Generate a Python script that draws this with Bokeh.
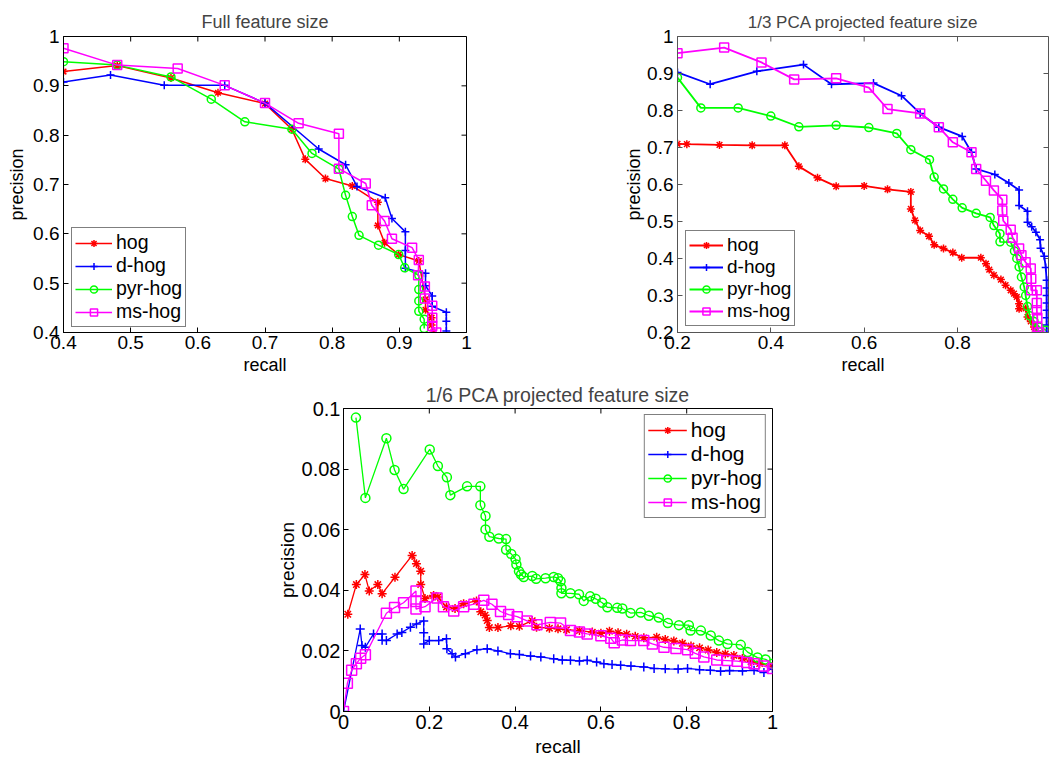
import math
from bokeh.plotting import figure
from bokeh.layouts import column, row, Spacer
from bokeh.models import Range1d, FixedTicker, CustomJSTickFormatter, Legend, LegendItem
from bokeh.embed import file_html
from bokeh.resources import INLINE

FONT = "Liberation Sans"
SERIES = ["hog", "d-hog", "pyr-hog", "ms-hog"]
COLORS = ["#FF0000", "#0000FF", "#00FF00", "#FF00FF"]
MARKERS = ["asterisk", "cross", "circle", "square"]

# ---------------- Full feature size ----------------
full_hog_r = [0.40, 0.48, 0.56, 0.63, 0.70, 0.74, 0.76, 0.79, 0.83, 0.868, 0.868, 0.878, 0.899, 0.929, 0.939, 0.939, 0.948, 0.948, 0.95]
full_hog_p = [0.929, 0.941, 0.916, 0.886, 0.864, 0.812, 0.751, 0.712, 0.697, 0.664, 0.617, 0.582, 0.558, 0.545, 0.467, 0.446, 0.430, 0.415, 0.400]
full_dhog_r = [0.40, 0.47, 0.55, 0.64, 0.70, 0.78, 0.82, 0.837, 0.879, 0.889, 0.909, 0.909, 0.909, 0.939, 0.939, 0.949, 0.949, 0.97, 0.97, 0.97]
full_dhog_p = [0.908, 0.922, 0.901, 0.901, 0.865, 0.772, 0.740, 0.696, 0.673, 0.631, 0.604, 0.566, 0.530, 0.520, 0.495, 0.474, 0.453, 0.441, 0.423, 0.403]
full_pyr_r = [0.40, 0.48, 0.56, 0.62, 0.67, 0.74, 0.77, 0.81, 0.82, 0.83, 0.84, 0.869, 0.899, 0.908, 0.929, 0.929, 0.929, 0.929, 0.937, 0.937]
full_pyr_p = [0.949, 0.942, 0.918, 0.873, 0.827, 0.812, 0.763, 0.731, 0.678, 0.635, 0.597, 0.577, 0.558, 0.531, 0.516, 0.487, 0.464, 0.443, 0.427, 0.408]
full_ms_r = [0.40, 0.48, 0.57, 0.64, 0.70, 0.75, 0.81, 0.81, 0.85, 0.859, 0.878, 0.889, 0.919, 0.929, 0.928, 0.938, 0.938, 0.949, 0.949, 0.949, 0.955]
full_ms_p = [0.976, 0.942, 0.935, 0.901, 0.865, 0.824, 0.803, 0.732, 0.702, 0.658, 0.626, 0.590, 0.572, 0.547, 0.516, 0.493, 0.469, 0.454, 0.430, 0.413, 0.400]

# ---------------- 1/3 PCA projected feature size ----------------
pca3_hog_r = [0.20, 0.22, 0.29, 0.36, 0.43, 0.46, 0.50, 0.54, 0.60, 0.65, 0.70, 0.70, 0.709, 0.72, 0.739, 0.75, 0.77, 0.79, 0.809, 0.85, 0.861, 0.868, 0.878, 0.893, 0.903, 0.914, 0.921, 0.927, 0.932, 0.932, 0.946, 0.95, 0.957, 0.964, 0.966]
pca3_hog_p = [0.710, 0.709, 0.707, 0.706, 0.706, 0.649, 0.618, 0.595, 0.596, 0.587, 0.580, 0.534, 0.503, 0.476, 0.460, 0.437, 0.427, 0.416, 0.402, 0.402, 0.386, 0.370, 0.355, 0.343, 0.328, 0.314, 0.305, 0.296, 0.278, 0.264, 0.265, 0.242, 0.230, 0.215, 0.200]
pca3_dhog_r = [0.20, 0.27, 0.37, 0.47, 0.53, 0.62, 0.68, 0.72, 0.76, 0.81, 0.83, 0.84, 0.88, 0.91, 0.932, 0.932, 0.95, 0.95, 0.959, 0.968, 0.977, 0.978, 0.986, 0.989, 0.991, 0.991, 0.991, 0.991, 0.991, 0.991, 0.991, 0.991]
pca3_dhog_p = [0.903, 0.871, 0.906, 0.924, 0.871, 0.874, 0.840, 0.792, 0.755, 0.730, 0.687, 0.642, 0.627, 0.604, 0.585, 0.543, 0.528, 0.498, 0.486, 0.471, 0.451, 0.428, 0.406, 0.376, 0.341, 0.320, 0.300, 0.280, 0.260, 0.240, 0.220, 0.200]
pca3_pyr_r = [0.20, 0.25, 0.33, 0.40, 0.46, 0.54, 0.61, 0.67, 0.70, 0.74, 0.75, 0.77, 0.79, 0.81, 0.84, 0.87, 0.878, 0.891, 0.891, 0.914, 0.922, 0.927, 0.932, 0.937, 0.943, 0.946, 0.95, 0.955, 0.964, 0.975, 0.99]
pca3_pyr_p = [0.889, 0.807, 0.807, 0.785, 0.756, 0.760, 0.754, 0.738, 0.694, 0.667, 0.620, 0.588, 0.560, 0.537, 0.522, 0.511, 0.489, 0.467, 0.445, 0.444, 0.420, 0.400, 0.377, 0.350, 0.323, 0.300, 0.270, 0.245, 0.230, 0.215, 0.206]
pca3_ms_r = [0.20, 0.30, 0.38, 0.45, 0.54, 0.61, 0.65, 0.72, 0.76, 0.79, 0.83, 0.84, 0.861, 0.878, 0.896, 0.896, 0.898, 0.914, 0.918, 0.932, 0.937, 0.946, 0.957, 0.958, 0.958, 0.97, 0.97, 0.97, 0.971, 0.971, 0.975]
pca3_ms_p = [0.955, 0.970, 0.930, 0.884, 0.887, 0.862, 0.804, 0.792, 0.755, 0.714, 0.687, 0.642, 0.610, 0.584, 0.559, 0.530, 0.502, 0.478, 0.456, 0.427, 0.409, 0.390, 0.373, 0.345, 0.314, 0.314, 0.280, 0.260, 0.240, 0.215, 0.200]

# ---------------- 1/6 PCA projected feature size ----------------
pca6_hog_r = [0.01, 0.03, 0.05, 0.06, 0.08, 0.09, 0.12, 0.16, 0.17, 0.18, 0.18, 0.19, 0.21, 0.22, 0.24, 0.26, 0.28, 0.31, 0.32, 0.33, 0.335, 0.34, 0.36, 0.39, 0.41, 0.44, 0.45, 0.48, 0.50, 0.52, 0.55, 0.58, 0.60, 0.62, 0.64, 0.66, 0.68, 0.70, 0.73, 0.75, 0.77, 0.79, 0.81, 0.83, 0.85, 0.87, 0.89, 0.91, 0.93, 0.95, 0.97, 1.0]
pca6_hog_p = [0.0321, 0.0419, 0.0452, 0.0398, 0.0419, 0.0389, 0.0443, 0.0515, 0.0488, 0.0463, 0.0419, 0.0373, 0.0383, 0.0378, 0.0345, 0.0340, 0.0356, 0.0365, 0.0329, 0.0318, 0.0300, 0.0277, 0.0277, 0.0283, 0.0281, 0.0300, 0.0278, 0.0275, 0.0273, 0.0270, 0.0267, 0.0262, 0.0258, 0.0265, 0.0260, 0.0255, 0.0248, 0.0243, 0.0245, 0.0238, 0.0233, 0.0225, 0.0216, 0.0210, 0.0203, 0.0195, 0.0190, 0.0185, 0.0175, 0.0165, 0.0158, 0.0148]
pca6_dhog_r = [0.0, 0.039, 0.043, 0.051, 0.07, 0.09, 0.09, 0.10, 0.125, 0.136, 0.156, 0.17, 0.187, 0.187, 0.187, 0.20, 0.222, 0.24, 0.241, 0.253, 0.261, 0.284, 0.311, 0.335, 0.36, 0.389, 0.41, 0.436, 0.46, 0.49, 0.51, 0.529, 0.55, 0.568, 0.59, 0.607, 0.626, 0.646, 0.67, 0.70, 0.724, 0.75, 0.78, 0.802, 0.83, 0.855, 0.879, 0.90, 0.93, 0.957, 0.98, 1.0]
pca6_dhog_p = [0.0, 0.0272, 0.0218, 0.0212, 0.0256, 0.0256, 0.0235, 0.0234, 0.0256, 0.0261, 0.0278, 0.0289, 0.0299, 0.0260, 0.0223, 0.0234, 0.0234, 0.0240, 0.0207, 0.0191, 0.0180, 0.0191, 0.0204, 0.0207, 0.0200, 0.0191, 0.0188, 0.0183, 0.0180, 0.0174, 0.0170, 0.0169, 0.0167, 0.0169, 0.0163, 0.0158, 0.0155, 0.0153, 0.0150, 0.0147, 0.0142, 0.0141, 0.0140, 0.0142, 0.0138, 0.0136, 0.0133, 0.0135, 0.0134, 0.0136, 0.0129, 0.0142]
pca6_pyr_r = [0.029, 0.051, 0.100, 0.119, 0.140, 0.201, 0.220, 0.241, 0.249, 0.288, 0.319, 0.319, 0.331, 0.331, 0.34, 0.362, 0.379, 0.379, 0.391, 0.401, 0.403, 0.409, 0.414, 0.42, 0.44, 0.449, 0.471, 0.49, 0.50, 0.506, 0.508, 0.508, 0.529, 0.549, 0.56, 0.575, 0.588, 0.603, 0.615, 0.638, 0.65, 0.669, 0.693, 0.712, 0.735, 0.756, 0.782, 0.805, 0.809, 0.833, 0.856, 0.875, 0.895, 0.926, 0.942, 0.965, 0.984, 1.0]
pca6_pyr_p = [0.0970, 0.0705, 0.0902, 0.0797, 0.0734, 0.0865, 0.0810, 0.0773, 0.0714, 0.0743, 0.0743, 0.0681, 0.0645, 0.0601, 0.0577, 0.0571, 0.0569, 0.0534, 0.0520, 0.0503, 0.0485, 0.0463, 0.0452, 0.0444, 0.0447, 0.0438, 0.0440, 0.0444, 0.0440, 0.0430, 0.0408, 0.0390, 0.0390, 0.0387, 0.0365, 0.0380, 0.0372, 0.0359, 0.0344, 0.0342, 0.0340, 0.0325, 0.0327, 0.0316, 0.0310, 0.0292, 0.0285, 0.0285, 0.0267, 0.0267, 0.0251, 0.0234, 0.0223, 0.0220, 0.0196, 0.0178, 0.0172, 0.0158]
pca6_ms_r = [0.0, 0.009, 0.019, 0.03, 0.04, 0.051, 0.10, 0.119, 0.14, 0.169, 0.169, 0.169, 0.19, 0.218, 0.233, 0.257, 0.28, 0.304, 0.327, 0.346, 0.366, 0.385, 0.405, 0.428, 0.451, 0.482, 0.506, 0.529, 0.55, 0.568, 0.60, 0.623, 0.631, 0.65, 0.669, 0.70, 0.72, 0.747, 0.775, 0.802, 0.82, 0.84, 0.87, 0.895, 0.918, 0.94, 0.957, 0.98, 1.0]
pca6_ms_p = [0.0, 0.0093, 0.0136, 0.0158, 0.0176, 0.0187, 0.0324, 0.0343, 0.0359, 0.0398, 0.0363, 0.0338, 0.0346, 0.0375, 0.0346, 0.0332, 0.0346, 0.0354, 0.0367, 0.0354, 0.0330, 0.0320, 0.0313, 0.0299, 0.0286, 0.0294, 0.0292, 0.0267, 0.0262, 0.0256, 0.0250, 0.0242, 0.0227, 0.0236, 0.0234, 0.0234, 0.0223, 0.0212, 0.0208, 0.0204, 0.0192, 0.0180, 0.0170, 0.0168, 0.0166, 0.0162, 0.0158, 0.0150, 0.0142]

# tick values
full_xticks = [0.4, 0.5, 0.6, 0.7, 0.8, 0.9, 1.0]
full_yticks = [0.4, 0.5, 0.6, 0.7, 0.8, 0.9, 1.0]
pca3_xticks = [0.2, 0.4, 0.6, 0.8, 1.0]
pca3_yticks = [0.2, 0.3, 0.4, 0.5, 0.6, 0.7, 0.8, 0.9, 1.0]
pca6_xticks = [0.0, 0.2, 0.4, 0.6, 0.8, 1.0]
pca6_yticks = [0.0, 0.02, 0.04, 0.06, 0.08, 0.1]

FMT = "return String(parseFloat(tick.toFixed(4)));"


def make_fig(title, xr, yr, xt, yt, w, h, bl, br, bt, bb, title_size, title_standoff,
             tick_size, lab_size, xstand, ystand, frame_color="black"):
    p = figure(width=w, height=h, x_range=Range1d(*xr), y_range=Range1d(*yr),
               output_backend="svg", toolbar_location=None,
               min_border_left=bl, min_border_right=br, min_border_top=bt, min_border_bottom=bb)
    p.title.text = title
    p.title.text_font = FONT
    p.title.text_font_size = title_size
    p.title.text_font_style = "normal"
    p.title.align = "center"
    p.title.standoff = title_standoff
    p.xgrid.grid_line_color = None
    p.ygrid.grid_line_color = None
    p.outline_line_color = frame_color
    p.outline_line_width = 1
    p.outline_line_alpha = 1
    p.background_fill_color = "white"
    p.border_fill_color = "white"
    for ax, ticks in ((p.xaxis[0], xt), (p.yaxis[0], yt)):
        ax.ticker = FixedTicker(ticks=ticks)
        ax.formatter = CustomJSTickFormatter(code=FMT)
        ax.major_tick_in = 5
        ax.major_tick_out = 0
        ax.minor_tick_line_color = None
        ax.axis_line_color = frame_color
        ax.major_tick_line_color = frame_color
        ax.major_label_text_font = FONT
        ax.major_label_text_font_size = tick_size
        ax.major_label_text_color = "black"
        ax.axis_label_text_font = FONT
        ax.axis_label_text_font_size = lab_size
        ax.axis_label_text_font_style = "normal"
        ax.axis_label_text_color = "black"
    p.xaxis.axis_label = "recall"
    p.yaxis.axis_label = "precision"
    p.xaxis.major_label_standoff = xstand[0]
    p.xaxis.axis_label_standoff = xstand[1]
    p.yaxis.major_label_standoff = ystand[0]
    p.yaxis.axis_label_standoff = ystand[1]
    # inward tick marks on the top and right edges of the box (MATLAB style)
    top_x = [t for t in xt if xr[0] <= t <= xr[1]]
    right_y = [t for t in yt if yr[0] <= t <= yr[1]]
    p.ray(x=top_x, y=[yr[1]] * len(top_x), length=5, length_units="screen",
          angle=-math.pi / 2, line_color=frame_color, line_width=1)
    p.ray(x=[xr[1]] * len(right_y), y=right_y, length=5, length_units="screen",
          angle=math.pi, line_color=frame_color, line_width=1)
    return p


def add_series(p, data, location, font_size, glyph_w=37, lw=1.5, msize=8):
    items = []
    for (r, pr), name, color, marker in zip(data, SERIES, COLORS, MARKERS):
        ln = p.line(r, pr, line_color=color, line_width=lw)
        sc = p.scatter(r, pr, marker=marker, size=msize + (1 if marker == "square" else 0),
                       line_color=color, fill_color=(color if marker == "asterisk" else None),
                       line_width=1.5)
        items.append(LegendItem(label=name, renderers=[ln, sc]))
    leg = Legend(items=items, location=location, border_line_color="black",
                 border_line_width=1, background_fill_color="white", background_fill_alpha=1,
                 label_text_font=FONT, label_text_font_size=font_size, label_text_color="black",
                 glyph_width=glyph_w, glyph_height=18, label_height=18, padding=3, spacing=0,
                 label_standoff=4, margin=6)
    p.add_layout(leg)


p1 = make_fig("Full feature size", (0.4, 1.0), (0.4, 1.0), full_xticks, full_yticks,
              476, 378, 63, 10, 36, 46, "18px", 9, "19px", "18px", (3, 3), (4, 3))
add_series(p1, [(full_hog_r, full_hog_p), (full_dhog_r, full_dhog_p),
                (full_pyr_r, full_pyr_p), (full_ms_r, full_ms_p)], (8, 5), "19.5px")

p2 = make_fig("1/3 PCA projected feature size", (0.2, 0.995), (0.2, 1.0), pca3_xticks, pca3_yticks,
              430, 378, 58, 1, 36, 46, "17px", 10, "19px", "18px", (3, 3), (4, 0),
              frame_color="#555555")
add_series(p2, [(pca3_hog_r, pca3_hog_p), (pca3_dhog_r, pca3_dhog_p),
                (pca3_pyr_r, pca3_pyr_p), (pca3_ms_r, pca3_ms_p)], (8, 6), "19px",
           glyph_w=34, lw=1.8)

p3 = make_fig("1/6 PCA projected feature size", (0.0, 1.0), (0.0, 0.1), pca6_xticks, pca6_yticks,
              512, 381, 73, 10, 29, 46, "19.5px", 6, "20px", "19px", (3, 4), (3, 1))
add_series(p3, [(pca6_hog_r, pca6_hog_p), (pca6_dhog_r, pca6_dhog_p),
                (pca6_pyr_r, pca6_pyr_p), (pca6_ms_r, pca6_ms_p)], "top_right", "21px",
           glyph_w=39, lw=1.3, msize=9)

layout = column(row(p1, Spacer(width=143, height=378), p2),
                row(Spacer(width=270, height=381), p3))

open("out.html", "w").write(file_html(layout, INLINE))
